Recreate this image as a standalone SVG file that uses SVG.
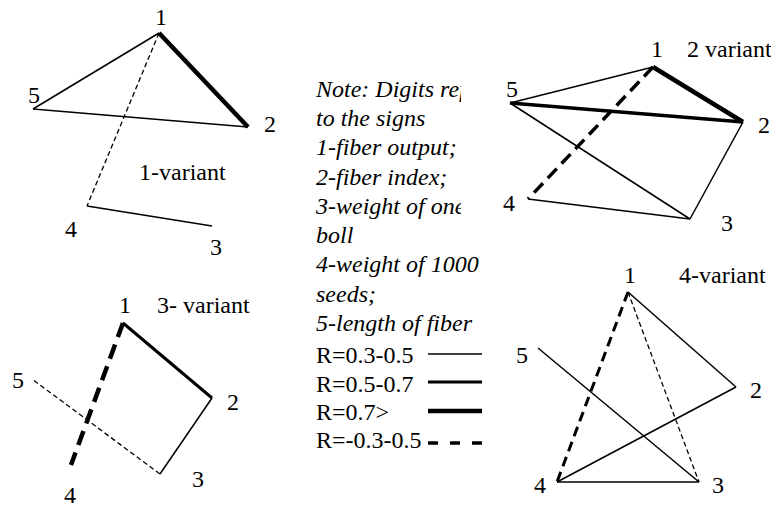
<svg xmlns="http://www.w3.org/2000/svg" width="771" height="508" viewBox="0 0 771 508" font-family="'Liberation Serif', 'Times New Roman', serif" font-size="24">
<defs>
<style>
text{font-family:'Liberation Serif','Times New Roman',serif;font-size:24px;fill:#000}
.d{text-anchor:middle}
.note{font-style:italic}
line{stroke:#000;fill:none}
.thin{stroke-width:1.5}
.med{stroke-width:3}
.thick{stroke-width:4.5}
.dthin{stroke-width:1.3;stroke-dasharray:5 3}
.dthick{stroke-width:3.5;stroke-dasharray:13 7}
</style>
<clipPath id="noteclip"><rect x="0" y="0" width="461" height="230"/><rect x="0" y="230" width="771" height="278"/></clipPath>
</defs>
<rect width="771" height="508" fill="#fff"/>
<g id="connectors">
<line class="thin" x1="159" y1="33" x2="33" y2="109"/>
<line class="thin" x1="33" y1="109" x2="248" y2="127"/>
<line class="thick" x1="159" y1="33" x2="248" y2="127"/>
<line class="dthin" x1="159" y1="33" x2="87" y2="206"/>
<line class="thin" x1="87" y1="206" x2="212" y2="226"/>
<line class="thin" x1="653" y1="67" x2="510" y2="103"/>
<line class="thick" x1="653" y1="67" x2="743" y2="122"/>
<line stroke-width="3.5" x1="510" y1="103" x2="743" y2="122"/>
<line class="thin" x1="510" y1="103" x2="690" y2="219"/>
<line class="thin" x1="743" y1="122" x2="690" y2="219"/>
<line class="thin" x1="528" y1="199" x2="690" y2="219"/>
<line class="dthick" x1="653" y1="67" x2="528" y2="199"/>
<line class="med" x1="123" y1="323" x2="212" y2="398"/>
<line class="thin" x1="212" y1="398" x2="160" y2="474"/>
<line class="dthin" x1="160" y1="474" x2="32" y2="379"/>
<line stroke-width="4.5" stroke-dasharray="15 8" x1="123" y1="323" x2="71" y2="465"/>
<line class="thin" x1="628" y1="292" x2="736" y2="387"/>
<line stroke-width="3" stroke-dasharray="10 6" x1="628" y1="292" x2="557" y2="482"/>
<line class="dthin" x1="628" y1="292" x2="699" y2="482"/>
<line class="thin" x1="538" y1="348" x2="699" y2="482"/>
<line class="thin" x1="736" y1="387" x2="557" y2="482"/>
<line class="thin" x1="557" y1="482" x2="699" y2="482"/>
</g>
<g id="variant1">
<g id="v1-n1"><text class="d" x="161" y="25">1</text></g>
<g id="v1-n2"><text class="d" x="270" y="132">2</text></g>
<g id="v1-n3"><text class="d" x="216" y="255">3</text></g>
<g id="v1-n4"><text class="d" x="71" y="237">4</text></g>
<g id="v1-n5"><text class="d" x="34" y="103">5</text></g>
<g id="v1-title"><text x="139" y="180">1-variant</text></g>
</g>
<g id="variant2">
<g id="v2-n1"><text class="d" x="657" y="57">1</text></g>
<g id="v2-n2"><text class="d" x="764" y="133">2</text></g>
<g id="v2-n3"><text class="d" x="727" y="231">3</text></g>
<g id="v2-n4"><text class="d" x="509" y="211">4</text></g>
<g id="v2-n5"><text class="d" x="512" y="97">5</text></g>
<g id="v2-title"><text x="687" y="57">2 variant</text></g>
</g>
<g id="variant3">
<g id="v3-n1"><text class="d" x="125" y="313">1</text></g>
<g id="v3-n2"><text class="d" x="233" y="410">2</text></g>
<g id="v3-n3"><text class="d" x="198" y="487">3</text></g>
<g id="v3-n4"><text class="d" x="70" y="503">4</text></g>
<g id="v3-n5"><text class="d" x="18" y="388">5</text></g>
<g id="v3-title"><text x="157" y="313">3- variant</text></g>
</g>
<g id="variant4">
<g id="v4-n1"><text class="d" x="630" y="283">1</text></g>
<g id="v4-n2"><text class="d" x="756" y="398">2</text></g>
<g id="v4-n3"><text class="d" x="718" y="493">3</text></g>
<g id="v4-n4"><text class="d" x="540" y="493">4</text></g>
<g id="v4-n5"><text class="d" x="522" y="363">5</text></g>
<g id="v4-title"><text x="679" y="283">4-variant</text></g>
</g>
<g id="note" clip-path="url(#noteclip)">
<text class="note" x="316" y="97">Note: Digits ref</text>
<text class="note" x="316" y="126">to the signs</text>
<text class="note" x="316" y="155">1-fiber output;</text>
<text class="note" x="316" y="185">2-fiber index;</text>
<text class="note" x="316" y="214">3-weight of one</text>
<text class="note" x="316" y="243">boll</text>
<text class="note" x="316" y="272">4-weight of 1000</text>
<text class="note" x="316" y="302">seeds;</text>
<text class="note" x="316" y="331">5-length of fiber</text>
</g>
<g id="legend">
<text x="316" y="363">R=0.3-0.5</text>
<text x="316" y="392">R=0.5-0.7</text>
<text x="316" y="420">R=0.7&gt;</text>
<text x="316" y="448">R=-0.3-0.5</text>
<line class="thin" x1="428" y1="354" x2="482" y2="354"/>
<line class="med" x1="428" y1="382" x2="482" y2="382"/>
<line class="thick" x1="428" y1="411" x2="482" y2="411"/>
<line stroke-width="3.5" stroke-dasharray="10 12" x1="428" y1="443" x2="482" y2="443"/>
</g>
</svg>
